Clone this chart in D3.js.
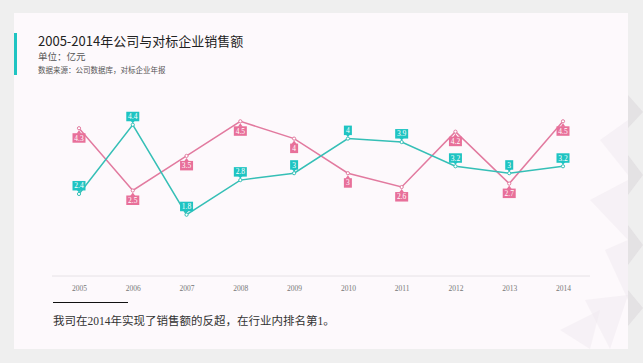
<!DOCTYPE html>
<html>
<head>
<meta charset="utf-8">
<script src="https://cdn.jsdelivr.net/npm/d3@7"></script>
<style>
  body { margin: 0; background: #efefef; }
  svg { display: block; }
</style>
</head>
<body>
<svg id="chart" width="643" height="363"></svg>
<script>
const years = ["2005", "2006", "2007", "2008", "2009", "2010", "2011", "2012", "2013", "2014"];
const company = [2.4, 4.4, 1.8, 2.8, 3, 4, 3.9, 3.2, 3, 3.2];
const rival = [4.3, 2.5, 3.5, 4.5, 4, 3, 2.6, 4.2, 2.7, 4.5];

const svg = d3.select("#chart");
const teal = "#1fc4c2";
const pink = "#e8709a";

// backdrop: grey page, faint low-poly pattern on the right, then the card
const bg = svg.append("g");
bg.append("rect").attr("width", 643).attr("height", 363).attr("fill", "#efefef");
const tris = [
  [[628, 95], [643, 112], [628, 128]],
  [[628, 155], [643, 175], [628, 195]],
  [[628, 225], [643, 245], [628, 265]],
  [[628, 290], [643, 308], [628, 326]]
];
bg.selectAll("polygon.out").data(tris).enter().append("polygon")
  .attr("points", d => d.join(" "))
  .attr("fill", "#dcd9dc").attr("opacity", 0.6);
bg.append("rect").attr("x", 14).attr("y", 13).attr("width", 614).attr("height", 336).attr("fill", "#fdf9fc");
const inner = [
  [[600, 140], [628, 120], [628, 175]],
  [[590, 200], [628, 180], [628, 240]],
  [[605, 250], [628, 240], [628, 300]],
  [[585, 300], [628, 295], [610, 349]],
  [[560, 330], [600, 310], [590, 349]]
];
bg.selectAll("polygon.in").data(inner).enter().append("polygon")
  .attr("points", d => d.join(" "))
  .attr("fill", "#efeaef").attr("opacity", 0.5);

// header
svg.append("rect").attr("x", 14).attr("y", 33).attr("width", 3).attr("height", 42).attr("fill", teal);
svg.append("text").attr("x", 38).attr("y", 46)
  .attr("font-family", "'Noto Sans CJK SC', sans-serif").attr("font-size", 13).attr("fill", "#222")
  .text("2005-2014年公司与对标企业销售额");
svg.append("text").attr("x", 38).attr("y", 60)
  .attr("font-family", "'Noto Sans CJK SC', sans-serif").attr("font-size", 9.5).attr("fill", "#555")
  .text("单位：亿元");
svg.append("text").attr("x", 38).attr("y", 73)
  .attr("font-family", "'Noto Sans CJK SC', sans-serif").attr("font-size", 7.5).attr("fill", "#555")
  .text("数据来源：公司数据库，对标企业年报");

// scales
const x = d3.scalePoint().domain(years).range([79, 563]);
const y = d3.scaleLinear().domain([0, 5]).range([277, 104]);

const xAxis = svg.append("g").attr("transform", "translate(0,276)")
  .call(d3.axisBottom(x).tickSize(0).tickPadding(10));
xAxis.select(".domain").attr("d", "M52,0H590").attr("stroke", "#e6e2e6");
xAxis.selectAll("text").attr("font-family", "'Liberation Serif', serif").attr("font-size", 7.5).attr("fill", "#777");

const line = d3.line().x((d, i) => x(years[i])).y(d => y(d));

function drawSeries(data, color, lineColor, above) {
  const g = svg.append("g");
  g.append("path").datum(data).attr("d", line)
    .attr("fill", "none").attr("stroke", lineColor).attr("stroke-width", 1.5);
  g.selectAll("circle").data(data).enter().append("circle")
    .attr("cx", (d, i) => x(years[i])).attr("cy", d => y(d)).attr("r", 1.6)
    .attr("fill", "#fff").attr("stroke", lineColor).attr("stroke-width", 1);
  const lab = g.selectAll("g.lab").data(data).enter().append("g")
    .attr("transform", (d, i) => `translate(${x(years[i])},${y(d)})`);
  const bw = d => String(d).length > 1 ? 13 : 8;
  const by = above ? -13 : 5;
  lab.append("path")
    .attr("d", above ? "M-2.5,-4.5L0,-1.5L2.5,-4.5Z" : "M-2.5,5.5L0,2L2.5,5.5Z")
    .attr("fill", color);
  lab.append("rect")
    .attr("x", d => -bw(d) / 2).attr("y", by).attr("width", bw).attr("height", 9.5)
    .attr("fill", color);
  lab.append("text").attr("y", by + 7.3).attr("text-anchor", "middle")
    .attr("font-family", "'Liberation Serif', serif").attr("font-size", 7.5).attr("fill", "#fff")
    .text(d => d);
}

drawSeries(rival, pink, "#e27a9f", false);
drawSeries(company, teal, "#35bfb6", true);

// footer note
svg.append("line").attr("x1", 53).attr("x2", 128).attr("y1", 302.5).attr("y2", 302.5)
  .attr("stroke", "#111").attr("stroke-width", 1);
const note = svg.append("text").attr("x", 53).attr("y", 325)
  .attr("font-family", "'Noto Sans CJK SC', sans-serif").attr("font-size", 11.5).attr("fill", "#333");
note.append("tspan").text("我司在");
note.append("tspan").attr("font-family", "'Liberation Serif', serif").text("2014");
note.append("tspan").text("年实现了销售额的反超，在行业内排名第");
note.append("tspan").attr("font-family", "'Liberation Serif', serif").text("1");
note.append("tspan").text("。");
</script>
</body>
</html>
